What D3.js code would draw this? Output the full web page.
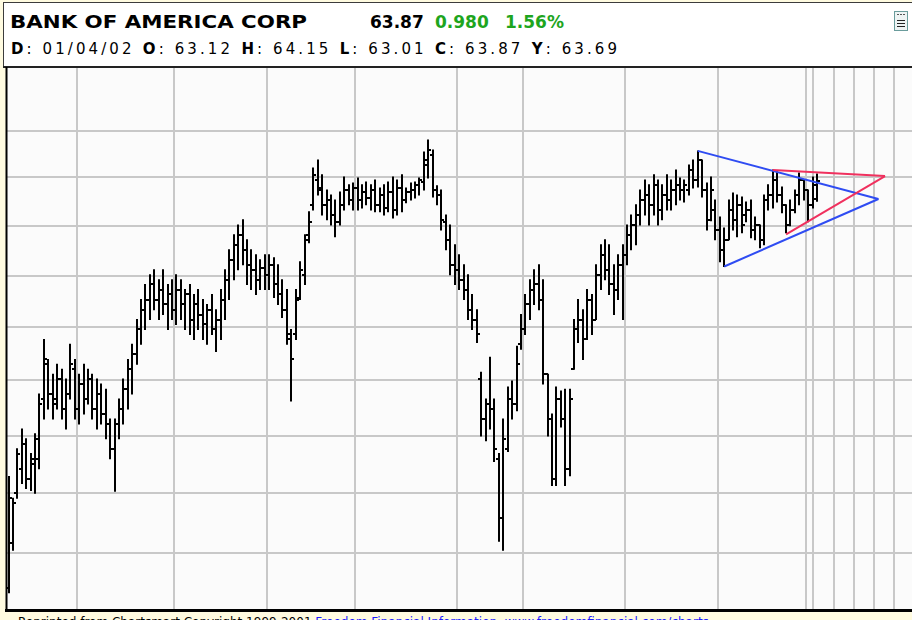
<!DOCTYPE html>
<html>
<head>
<meta charset="utf-8">
<script src="https://cdn.jsdelivr.net/npm/d3@7"></script>
<style>
  body { margin: 0; background: #fffbe0; }
  svg { display: block; }
</style>
</head>
<body>
<div id="chart"></div>
<script>
// Daily OHLC bars, 04/06/01 .. 01/04/02 (index = trading day)
const opens = [48.86,50.31,51.99,52.84,53.72,52.50,53.02,53.19,55.32,56.60,55.50,55.32,56.05,54.96,55.50,56.41,
  54.96,55.87,55.32,56.05,54.96,55.50,54.78,54.42,53.54,54.42,54.96,55.68,56.41,56.97,57.91,58.67,59.06,59.65,59.06,59.45,58.87,59.26,
  58.67,59.45,58.87,59.26,58.29,58.87,58.48,58.10,58.67,57.91,58.29,59.06,59.84,60.63,61.23,61.63,61.03,60.43,60.23,59.84,60.31,
  60.03,60.43,59.65,59.26,58.67,57.53,57.72,59.14,60.03,61.63,62.86,63.89,63.48,62.86,63.06,62.44,62.16,62.86,63.48,63.06,
  63.56,63.06,63.39,63.14,63.48,62.86,63.27,62.73,63.39,62.65,63.56,63.06,63.39,63.48,63.69,63.81,64.53,64.95,63.48,63.27,62.16,61.43,60.43,
  60.23,59.84,59.45,58.67,58.29,56.05,54.60,55.14,54.96,53.19,51.14,53.54,55.32,55.14,57.35,
  57.91,58.87,59.45,59.65,59.06,56.23,54.60,52.50,55.32,54.60,52.84,56.41,57.91,58.29,57.53,59.06,58.29,60.03,60.83,60.23,59.65,59.45,60.43,
  60.83,61.63,62.03,62.44,63.06,63.27,62.86,63.69,62.65,63.27,63.06,63.48,63.69,63.48,63.48,64.32,63.89,64.74,63.48,62.24,62.65,
  61.83,61.03,61.43,62.65,62.24,62.86,62.44,62.65,61.83,62.03,61.43,63.06,63.27,63.89,63.27,62.86,62.03,62.65,63.27,63.89,
  63.48,62.86,63.12];
const highs = [52.57,51.82,53.54,54.24,53.89,53.37,54.07,55.50,57.53,56.78,56.23,56.60,56.41,56.05,57.35,56.78,
  56.23,56.60,56.41,56.23,56.05,55.87,55.68,54.60,54.60,55.32,56.05,56.78,57.35,58.29,59.06,59.65,60.03,60.23,59.84,60.23,59.65,59.84,
  60.03,59.84,59.45,59.65,59.26,59.45,59.06,58.87,59.26,58.67,59.45,60.23,61.03,61.63,62.03,62.24,61.43,61.03,60.83,60.63,60.83,
  60.83,60.71,60.43,59.84,59.45,57.91,59.45,60.55,61.63,62.57,64.40,64.74,64.11,63.48,63.27,63.06,63.39,64.02,63.69,63.77,
  63.98,63.69,63.81,63.69,63.89,63.56,63.69,63.81,64.02,63.89,64.11,63.56,63.77,63.81,63.98,65.08,65.60,65.17,63.65,63.48,62.44,62.03,61.23,
  60.83,60.43,60.03,59.26,58.67,56.30,55.32,56.86,55.32,53.37,54.60,55.76,55.98,57.27,58.48,
  59.26,59.84,60.23,60.43,59.84,56.23,54.78,55.76,55.61,55.68,55.68,58.29,59.06,58.67,59.45,59.26,60.43,61.23,61.43,61.23,60.43,60.83,61.23,
  62.03,62.44,62.86,63.48,63.89,63.69,64.11,63.89,63.69,64.11,63.89,64.32,63.98,63.89,64.53,64.74,65.13,64.74,63.77,64.02,63.06,
  62.36,61.91,63.06,63.35,63.27,63.18,62.98,63.06,62.36,62.03,63.27,63.69,64.32,64.23,63.60,62.86,63.06,63.48,64.19,63.89,
  63.48,64.02,64.15];
const lows = [48.70,50.08,51.82,52.33,52.16,52.09,51.99,52.84,54.60,54.96,54.60,54.96,54.60,54.24,55.32,54.60,
  54.42,54.78,55.14,54.60,54.24,54.42,53.89,53.19,52.06,53.89,54.42,54.96,55.50,56.60,57.35,57.91,58.29,58.67,58.29,58.48,57.91,58.29,
  58.10,58.29,57.91,57.72,57.53,57.91,57.53,57.35,57.72,57.08,57.53,58.29,59.06,59.84,60.23,60.43,59.65,59.45,59.26,59.45,59.45,
  59.45,59.14,58.87,58.37,57.35,55.25,57.53,59.06,59.65,61.31,62.65,63.27,62.44,62.24,62.03,61.55,62.03,62.65,62.86,62.65,
  62.65,62.73,62.86,62.65,62.57,62.57,62.44,62.57,62.32,62.44,62.57,62.94,63.06,63.14,63.27,63.48,63.98,63.18,62.86,61.83,61.03,60.03,59.65,
  59.45,59.06,58.29,57.91,57.42,53.99,53.82,54.24,53.09,50.38,50.08,53.44,54.60,54.89,57.16,
  57.72,58.29,58.87,58.67,55.87,53.99,52.26,52.26,54.31,52.26,52.60,56.41,57.42,56.78,57.53,57.72,58.29,59.45,59.84,59.26,58.48,59.06,58.29,
  60.43,61.03,61.23,62.03,62.44,62.03,62.44,62.03,62.24,62.65,62.65,62.86,63.06,62.98,63.27,63.56,63.60,63.18,61.83,62.20,61.43,
  60.55,60.36,61.43,61.83,61.55,61.71,62.16,61.51,61.43,61.11,61.23,62.65,62.73,62.98,62.53,61.71,62.00,62.53,62.86,63.06,
  62.16,62.73,63.01];
const closes = [51.82,51.65,53.37,53.72,52.50,53.19,53.89,55.14,56.78,55.50,55.14,56.05,54.96,55.50,56.60,54.96,
  55.87,55.32,56.05,54.96,55.50,54.78,54.42,53.54,54.42,54.96,55.68,56.41,56.97,57.91,58.67,59.06,59.65,59.06,59.45,58.87,59.26,58.67,
  59.45,58.87,59.26,58.29,58.87,58.48,58.10,58.67,57.91,58.29,59.06,59.84,60.63,61.23,61.63,61.03,60.43,60.23,59.84,60.31,60.03,
  60.43,59.65,59.26,58.67,57.72,56.78,59.06,60.23,61.43,62.16,64.11,63.56,62.86,63.06,62.44,62.16,62.86,63.48,63.06,63.56,
  63.06,63.39,63.14,63.48,62.86,63.27,62.73,63.39,62.65,63.56,63.06,63.39,63.48,63.69,63.89,64.74,65.17,63.48,63.27,62.24,61.43,60.43,60.23,
  59.84,59.45,58.67,58.29,57.72,54.60,55.14,54.96,53.54,51.14,53.89,55.32,55.14,56.60,57.91,
  58.87,59.45,59.65,59.06,56.23,54.60,52.50,55.32,54.60,52.84,55.32,57.91,58.29,57.53,59.06,58.29,60.03,60.83,60.23,59.65,59.45,60.43,60.83,
  61.63,62.03,62.44,63.06,63.27,62.86,63.69,62.65,63.27,63.06,63.48,63.69,63.48,63.69,64.32,63.89,64.74,63.48,62.24,63.48,61.83,
  61.03,61.43,62.65,62.24,62.86,62.03,62.65,61.83,62.03,61.43,63.06,63.27,63.89,63.27,62.86,62.03,62.65,63.27,63.89,63.48,
  62.86,63.69,63.87];

// First trading day of each month (May 01 .. Jan 02) and the weekly lines past the last bar
const monthStarts = [16, 38, 59, 79, 102, 117, 140, 161, 181];
const futureLines = [182.1, 186.9, 191.4, 195.9, 200.4];
const priceGrid = [50, 52, 54, 56, 58, 60, 62, 64, 66];

// Drawn trendlines: [index, price] end points
const blueLines = [[[156, 65.13], [196.9, 63.10]], [[162, 60.36], [196.9, 63.10]]];
const redLines = [[[173, 64.32], [198.4, 64.06]], [[176, 61.65], [198.4, 64.06]]];

const W = 912, H = 620;
const plot = { left: 7, top: 68, right: 912, bottom: 610 };

const svg = d3.select("#chart")
  .append("svg")
  .attr("width", W)
  .attr("height", H)
  .style("font-family", "'DejaVu Sans', sans-serif");

// Outer frame and header panel
svg.append("rect").attr("width", W).attr("height", H).attr("fill", "#fffbe0");
svg.append("rect")
  .attr("x", 3.5).attr("y", 2.5).attr("width", W).attr("height", 64)
  .attr("fill", "#ffffff").attr("stroke", "#3c3c3c").attr("stroke-width", 1);
svg.append("line")
  .attr("x1", 3).attr("x2", W).attr("y1", 67).attr("y2", 67)
  .attr("stroke", "#222").attr("stroke-width", 2);

// Chart area
svg.append("rect")
  .attr("x", plot.left).attr("y", plot.top)
  .attr("width", plot.right - plot.left).attr("height", plot.bottom - plot.top)
  .attr("fill", "#fbfbfb");

svg.append("clipPath").attr("id", "clip")
  .append("rect")
  .attr("x", plot.left).attr("y", plot.top)
  .attr("width", plot.right - plot.left).attr("height", plot.bottom - plot.top);

const x = d3.scaleLinear().domain([0, 183]).range([8.5, 817]);
const y = d3.scaleLog().domain([48.15, 68.78]).range([plot.bottom, plot.top]);

const g = svg.append("g").attr("clip-path", "url(#clip)");

// Grid
g.selectAll(".hgrid")
  .data(priceGrid)
  .enter().append("line")
  .attr("class", "hgrid")
  .attr("x1", plot.left).attr("x2", plot.right)
  .attr("y1", d => Math.round(y(d))).attr("y2", d => Math.round(y(d)))
  .attr("stroke", "#c8c8c8").attr("stroke-width", 2);

g.selectAll(".vgrid")
  .data(monthStarts.map(d => d - 0.5).concat(futureLines))
  .enter().append("line")
  .attr("class", "vgrid")
  .attr("x1", d => Math.round(x(d))).attr("x2", d => Math.round(x(d)))
  .attr("y1", plot.top).attr("y2", plot.bottom)
  .attr("stroke", "#c8c8c8").attr("stroke-width", 2);

// OHLC bars
const bars = g.selectAll(".bar")
  .data(d3.range(closes.length))
  .enter().append("g")
  .attr("class", "bar")
  .attr("transform", i => `translate(${Math.round(x(i))},0)`);

bars.append("line")
  .attr("x1", 0).attr("x2", 0)
  .attr("y1", i => y(highs[i]) - 0.5).attr("y2", i => y(lows[i]) + 0.5)
  .attr("stroke", "#000").attr("stroke-width", 2);

bars.append("line")
  .attr("x1", -3).attr("x2", 0)
  .attr("y1", i => Math.round(y(opens[i]))).attr("y2", i => Math.round(y(opens[i])))
  .attr("stroke", "#000").attr("stroke-width", 2);

bars.append("line")
  .attr("x1", 0).attr("x2", 3)
  .attr("y1", i => Math.round(y(closes[i]))).attr("y2", i => Math.round(y(closes[i])))
  .attr("stroke", "#000").attr("stroke-width", 2);

// Trendlines
const seg = d3.line().x(d => x(d[0])).y(d => y(d[1]));
g.selectAll(".blue")
  .data(blueLines)
  .enter().append("path")
  .attr("d", seg)
  .attr("fill", "none").attr("stroke", "#2f4cf2").attr("stroke-width", 2);
g.selectAll(".red")
  .data(redLines)
  .enter().append("path")
  .attr("d", seg)
  .attr("fill", "none").attr("stroke", "#f0305e").attr("stroke-width", 2);

// Plot borders
svg.append("line")
  .attr("x1", 6.5).attr("x2", 6.5).attr("y1", 67).attr("y2", 611)
  .attr("stroke", "#000").attr("stroke-width", 2);
svg.append("line")
  .attr("x1", 5).attr("x2", W).attr("y1", 610.5).attr("y2", 610.5)
  .attr("stroke", "#000").attr("stroke-width", 3);

// Header text
const title = svg.append("g");
title.append("text")
  .attr("x", 10).attr("y", 28)
  .attr("font-size", 17).attr("font-weight", "bold")
  .attr("textLength", 297).attr("lengthAdjust", "spacingAndGlyphs")
  .text("BANK OF AMERICA CORP");
title.append("text")
  .attr("x", 370).attr("y", 28)
  .attr("font-size", 17).attr("font-weight", "bold")
  .text("63.87");
title.append("text")
  .attr("x", 435).attr("y", 28)
  .attr("font-size", 17).attr("font-weight", "bold").attr("fill", "#1ea51e")
  .text("0.980");
title.append("text")
  .attr("x", 505).attr("y", 28)
  .attr("font-size", 17).attr("font-weight", "bold").attr("fill", "#1ea51e")
  .text("1.56%");

const quote = [["D", "01/04/02"], ["O", "63.12"], ["H", "64.15"], ["L", "63.01"], ["C", "63.87"], ["Y", "63.69"]];
const line2 = svg.append("text")
  .attr("x", 11).attr("y", 54)
  .attr("font-size", 15)
  .attr("textLength", 606).attr("lengthAdjust", "spacing");
quote.forEach((q, i) => {
  line2.append("tspan").attr("font-weight", "bold").text((i ? " " : "") + q[0]);
  line2.append("tspan").text(": " + q[1]);
});

// Menu icon
const icon = svg.append("g").attr("transform", "translate(894,11)");
icon.append("rect").attr("x", 0.5).attr("y", 0.5).attr("width", 13).attr("height", 19)
  .attr("fill", "#eef4f4").attr("stroke", "#6a9c9c");
icon.selectAll(".ln")
  .data([3, 9, 12, 15])
  .enter().append("line")
  .attr("x1", 3).attr("x2", 11).attr("y1", d => d + 0.5).attr("y2", d => d + 0.5)
  .attr("stroke", (d, i) => i ? "#222" : "#555")
  .attr("stroke-dasharray", (d, i) => i ? null : "2,1");

// Footer (the window cuts it, as in the original)
const foot = svg.append("text")
  .attr("x", 18).attr("y", 626)
  .attr("font-size", 12);
foot.append("tspan").text("Reprinted from Chartsmart Copyright 1999-2001 ");
foot.append("tspan").attr("fill", "#1a1aff").text("Freedom Financial Information. www.freedomfinancial.com/charts");
</script>
</body>
</html>
